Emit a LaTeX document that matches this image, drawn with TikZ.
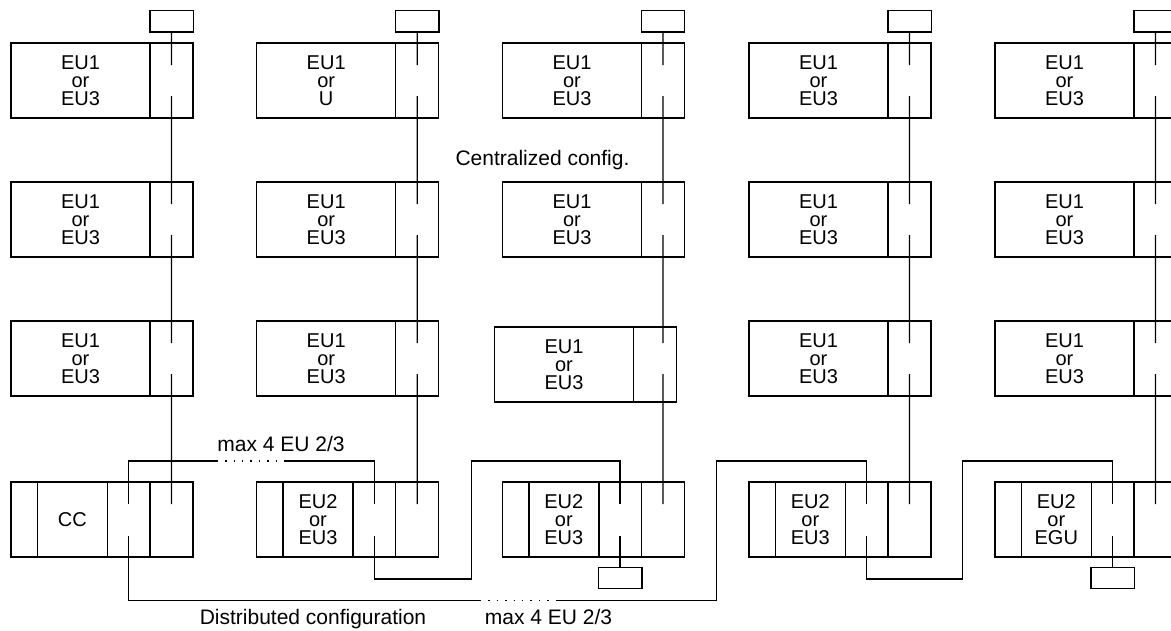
\documentclass[tikz,border=0pt]{standalone}
\usepackage{fontspec}
\setmainfont{Liberation Sans}
\usetikzlibrary{positioning}
\newcommand{\unitfont}{\fontsize{20}{18}\selectfont}
\newcommand{\labelfont}{\fontsize{21}{24}\selectfont}

\begin{document}
\begin{tikzpicture}[
  x=1pt, y=-1pt,
  cell/.style={rectangle, draw, line width=1.4pt, minimum height=75pt,
               inner sep=0pt, outer sep=0pt, align=center, font=\unitfont},
  modbox/.style={cell, minimum width=139pt},
  portbox/.style={cell, minimum width=43pt},
  slotbox/.style={cell, minimum width=26.3pt},
  cpubox/.style={cell, minimum width=70pt},
  connbox/.style={cell, minimum width=42.7pt},
  capbox/.style={cell, minimum width=43.4pt, minimum height=21.3pt},
  bus/.style={line width=1.4pt},
  gapdots/.style={line width=1.4pt, dash pattern=on 1.4pt off 7pt},
  lbl/.style={font=\labelfont, inner sep=0pt, anchor=base},
]
\useasboundingbox (0,0) rectangle (1171,630);
\clip (0,0) rectangle (1171,630);

% ---- one column per central unit ----
\foreach \c/\x/\lowtxt/\cputxt/\dx/\dy in {
    1/11/EU3/CC/0/0,
    2/256.7/U/{EU2\\or\\EU3}/0/0,
    3/502.5/EU3/{EU2\\or\\EU3}/-8/6,
    4/749/EU3/{EU2\\or\\EU3}/0/0,
    5/995/EU3/{EU2\\or\\EGU}/0/0} {
  % upper stack
  \node[modbox] (eu\c-1) at ({\x+69.5},80.5) {EU1\\or\\\lowtxt};
  \node[portbox, right=0pt of eu\c-1] (pt\c-1) {};
  \node[capbox, above=11pt of pt\c-1] (cap\c) {};
  \node[modbox] (eu\c-2) at ({\x+69.5},219.5) {EU1\\or\\EU3};
  \node[portbox, right=0pt of eu\c-2] (pt\c-2) {};
  \node[modbox] (eu\c-3) at ({\x+69.5+\dx},{358.5+\dy}) {EU1\\or\\EU3};
  \node[portbox, right=0pt of eu\c-3] (pt\c-3) {};
  % lower unit
  \node[slotbox] (sl\c) at ({\x+13.15},519.5) {};
  \node[cpubox, right=0pt of sl\c] (cu\c) {\cputxt};
  \node[connbox, right=0pt of cu\c] (cn\c) {};
  \node[portbox, right=0pt of cn\c] (bp\c) {};
  % gap ends
  \path (pt\c-1.north -| cap\c.south) ++(0,22) coordinate (u\c-1) ++(0,31) coordinate (d\c-1);
  \path (pt\c-2.north -| cap\c.south) ++(0,22) coordinate (u\c-2) ++(0,31) coordinate (d\c-2);
  \path (pt\c-3.north -| cap\c.south) ++(0,{22-\dy}) coordinate (u\c-3) ++(0,31) coordinate (d\c-3);
  \path (bp\c.north) ++(0,22) coordinate (pi\c);
  \path (cn\c.north) ++(0,22) coordinate (ci\c) ++(0,31.7) coordinate (co\c);
  \draw[bus] (cap\c.south) -- (u\c-1) (d\c-1) -- (u\c-2)
             (d\c-2) -- (u\c-3) (d\c-3) -- (pi\c);
}

% ---- terminators ----
\node[capbox, below=10.4pt of cn3] (lc3) {};
\node[capbox, below=10.4pt of cn5] (lc5) {};

% ---- turn points ----
\coordinate (da1) at (216.7,461);
\coordinate (da2) at (285,461);
\coordinate (db1) at (480,600.7);
\coordinate (db2) at (556,600.7);
\coordinate (lo2) at (471.3,579);
\coordinate (hi2) at (471.3,461);
\coordinate (hi1) at (716.7,461);
\coordinate (lo4) at (962.7,579);
\coordinate (hi4) at (962.7,461);

% ---- links ----
\draw[bus] (ci1) |- (da1);
\draw[gapdots] (da1) -- (da2);
\draw[bus] (da2) -| (ci2);
\draw[bus] (co2) |- (lo2) -- (hi2) -| (ci3);
\draw[bus] (co3) -- (lc3.north);
\draw[bus] (co1) |- (db1);
\draw[gapdots] (db1) -- (db2);
\draw[bus] (db2) -| (hi1) -| (ci4);
\draw[bus] (co4) |- (lo4) -- (hi4) -| (ci5);
\draw[bus] (co5) -- (lc5.north);

% ---- labels ----
\node[lbl] (cenlbl) at (542.5,165) {Centralized config.};
\node[lbl] (maxtop) at (281,451.5) {max 4 EU 2/3};
\node[lbl] (distlbl) at (313,624) {Distributed configuration};
\node[lbl] (maxbot) at (548.5,624) {max 4 EU 2/3};

\end{tikzpicture}
\end{document}
